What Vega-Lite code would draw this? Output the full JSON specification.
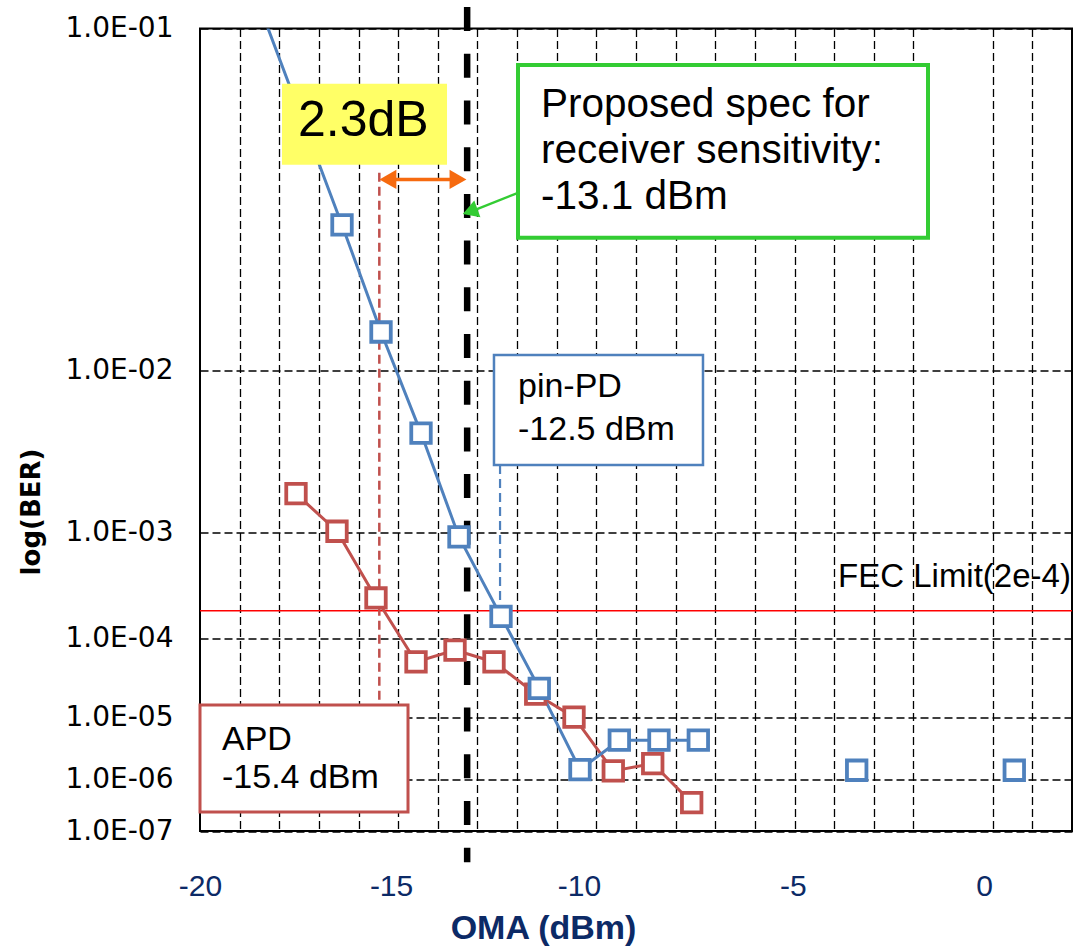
{
  "$schema": "https://vega.github.io/schema/vega-lite/v6.json",
  "width": 872,
  "height": 802.5,
  "autosize": {"type": "none"},
  "padding": {"left": 200, "top": 28.5, "right": 10, "bottom": 116},
  "background": "white",
  "config": {"view": {"stroke": "black", "strokeWidth": 2}},
  "data": {
    "values": [
      {"kind": "fec", "ber": 0.0002},
      {"kind": "pt", "series": "APD", "x": -17.578, "ber": 0.00195, "conn": true},
      {"kind": "pt", "series": "APD", "x": -16.544, "ber": 0.00103, "conn": true},
      {"kind": "pt", "series": "APD", "x": -15.56, "ber": 0.000268, "conn": true},
      {"kind": "pt", "series": "APD", "x": -14.55, "ber": 0.0000542, "conn": true},
      {"kind": "pt", "series": "APD", "x": -13.566, "ber": 0.0000749, "conn": true},
      {"kind": "pt", "series": "APD", "x": -12.583, "ber": 0.0000542, "conn": true},
      {"kind": "pt", "series": "APD", "x": -11.53, "ber": 0.0000212, "conn": true},
      {"kind": "pt", "series": "APD", "x": -10.564, "ber": 0.0000101, "conn": true},
      {"kind": "pt", "series": "APD", "x": -9.573, "ber": 0.00000142, "conn": true},
      {"kind": "pt", "series": "APD", "x": -8.578, "ber": 0.0000019, "conn": true},
      {"kind": "pt", "series": "APD", "x": -7.595, "ber": 0.000000374, "conn": true},
      {"kind": "pt", "series": "pin-PD", "x": -18.41, "ber": 0.1053, "conn": true},
      {"kind": "pt", "series": "pin-PD", "x": -16.417, "ber": 0.0355, "conn": true},
      {"kind": "pt", "series": "pin-PD", "x": -15.433, "ber": 0.01476, "conn": true},
      {"kind": "pt", "series": "pin-PD", "x": -14.424, "ber": 0.00471, "conn": true},
      {"kind": "pt", "series": "pin-PD", "x": -13.466, "ber": 0.000928, "conn": true},
      {"kind": "pt", "series": "pin-PD", "x": -12.406, "ber": 0.000175, "conn": true},
      {"kind": "pt", "series": "pin-PD", "x": -11.44, "ber": 0.0000252, "conn": true},
      {"kind": "pt", "series": "pin-PD", "x": -10.413, "ber": 0.0000015, "conn": true},
      {"kind": "pt", "series": "pin-PD", "x": -9.421, "ber": 0.00000455, "conn": true},
      {"kind": "pt", "series": "pin-PD", "x": -8.42, "ber": 0.00000455, "conn": true},
      {"kind": "pt", "series": "pin-PD", "x": -7.428, "ber": 0.00000455, "conn": true},
      {"kind": "pt", "series": "pin-PD", "x": -3.432, "ber": 0.00000146, "conn": false},
      {"kind": "pt", "series": "pin-PD", "x": 0.544, "ber": 0.00000146, "conn": false},
      {"kind": "vline", "id": "spec", "x": -13.26, "ber": 0.1085, "ber2": 0.00000002},
      {"kind": "vline", "id": "apd", "x": -15.476, "ber": 0.0496, "ber2": 0.000015},
      {"kind": "vline", "id": "pin", "x": -12.43, "ber": 0.00302, "ber2": 0.000229},
      {"kind": "box", "id": "yellow", "x": -17.931, "x2": -13.768, "ber": 0.0791, "ber2": 0.052},
      {"kind": "box", "id": "green", "x": -11.977, "x2": -1.633, "ber": 0.086, "ber2": 0.0324},
      {"kind": "box", "id": "blue", "x": -12.583, "x2": -7.31, "ber": 0.01173, "ber2": 0.00302},
      {"kind": "box", "id": "red", "x": -20, "x2": -14.752, "ber": 0.000015, "ber2": 0.000000246},
      {"kind": "text", "id": "big", "x": -15.88, "ber": 0.0611, "label": "2.3dB"},
      {"kind": "text", "id": "green", "x": -11.397, "ber": 0.0674, "label": "Proposed spec for"},
      {"kind": "text", "id": "green", "x": -11.397, "ber": 0.0526, "label": "receiver sensitivity:"},
      {"kind": "text", "id": "green", "x": -11.397, "ber": 0.0396, "label": "-13.1 dBm"},
      {"kind": "text", "id": "box", "x": -11.977, "ber": 0.00738, "label": "pin-PD"},
      {"kind": "text", "id": "box", "x": -11.977, "ber": 0.00429, "label": "-12.5 dBm"},
      {"kind": "text", "id": "box", "x": -19.445, "ber": 0.00000316, "label": "APD"},
      {"kind": "text", "id": "box", "x": -19.445, "ber": 0.000000697, "label": "-15.4 dBm"},
      {"kind": "text", "id": "fec", "x": -3.903, "ber": 0.000342, "label": "FEC Limit(2e-4)"},
      {"kind": "seg", "id": "orange", "x": -15.259, "x2": -13.491, "ber": 0.0477, "ber2": 0.0477},
      {"kind": "seg", "id": "green", "x": -11.977, "x2": -13.138, "ber": 0.0439, "ber2": 0.039},
      {"kind": "head", "id": "oleft", "x": -15.259, "ber": 0.0477},
      {"kind": "head", "id": "oright", "x": -13.491, "ber": 0.0477},
      {"kind": "head", "id": "green", "x": -13.186, "ber": 0.0389}
    ]
  },
  "transform": [
    {"calculate": "-quantileNormal(datum.ber)", "as": "q"},
    {"calculate": "isValid(datum.ber2) ? -quantileNormal(datum.ber2) : null", "as": "q2"}
  ],
  "resolve": {"axis": {"x": "independent", "y": "independent"}},
  "layer": [
    {
      "transform": [{"filter": "datum.kind === 'fec'"}],
      "mark": {"type": "rule", "color": "#FF0000", "strokeWidth": 1.5},
      "encoding": {"y": {"field": "q", "type": "quantitative", "axis": null}}
    },
    {
      "transform": [{"filter": "datum.kind === 'pt' && datum.conn"}],
      "mark": {"type": "line", "strokeWidth": 3, "clip": true},
      "encoding": {
        "x": {
          "field": "x", "type": "quantitative",
          "scale": {"domain": [-20, 2], "nice": false, "zero": false},
          "axis": {
            "values": [-20, -15.18, -10.44, -5.04, -0.22],
            "labelExpr": "'' + round(datum.value / 5) * 5",
            "labelFlush": false, "labelOverlap": false, "labelBound": false,
            "grid": false, "ticks": false, "tickSize": 0, "domain": false,
            "labelFont": "Liberation Sans", "labelFontSize": 30, "labelColor": "#0C2A66",
            "labelBaseline": "alphabetic", "labelPadding": 64,
            "title": "OMA (dBm)", "titleFont": "Liberation Sans", "titleFontSize": 34,
            "titleFontWeight": "bold", "titleColor": "#0C2A66",
            "titleX": 343, "titleY": 107, "titleBaseline": "alphabetic", "titleAlign": "center"
          }
        },
        "y": {
          "field": "q", "type": "quantitative",
          "scale": {"type": "log", "domain": [1.2815516, 5.1993376], "reverse": true, "nice": false},
          "axis": {
            "values": [1.2815516, 2.3263479, 3.0902323, 3.7190165, 4.2648908, 4.7534243, 5.1993376],
            "labelExpr": "'1.0E-0' + round(-log(cumulativeNormal(-datum.value)) / LN10)",
            "grid": true, "gridColor": "black", "gridDash": [8, 4], "gridWidth": 1.3, "gridOpacity": 1,
            "ticks": false, "tickSize": 0, "domain": false,
            "labelFlush": false, "labelOverlap": false, "labelBound": false,
            "labelFont": "DejaVu Sans", "labelFontSize": 28, "labelColor": "black", "labelPadding": 27,
            "title": "log(BER)", "titleFont": "DejaVu Sans", "titleFontSize": 26, "titleFontWeight": "bold",
            "titleColor": "black", "titleX": -169, "titleY": 483, "titleBaseline": "middle",
            "titleAngle": -90, "titleAlign": "center"
          }
        },
        "color": {
          "field": "series", "type": "nominal",
          "scale": {"domain": ["APD", "pin-PD"], "range": ["#C0504D", "#4F81BD"]},
          "legend": null
        }
      }
    },
    {
      "transform": [{"filter": "datum.kind === 'vline' && datum.id === 'spec'"}],
      "mark": {"type": "rule", "color": "black", "strokeWidth": 6.5, "strokeDash": [24, 22.7], "clip": false},
      "encoding": {
        "x": {"field": "x", "type": "quantitative", "axis": null},
        "y": {"field": "q", "type": "quantitative", "axis": null},
        "y2": {"field": "q2"}
      }
    },
    {
      "transform": [{"filter": "datum.kind === 'vline' && datum.id === 'apd'"}],
      "mark": {"type": "rule", "color": "#C0504D", "strokeWidth": 2.5, "strokeDash": [9, 5]},
      "encoding": {
        "x": {"field": "x", "type": "quantitative", "axis": null},
        "y": {"field": "q", "type": "quantitative", "axis": null},
        "y2": {"field": "q2"}
      }
    },
    {
      "transform": [{"filter": "datum.kind === 'vline' && datum.id === 'pin'"}],
      "mark": {"type": "rule", "color": "#4F81BD", "strokeWidth": 2.2, "strokeDash": [9, 5]},
      "encoding": {
        "x": {"field": "x", "type": "quantitative", "axis": null},
        "y": {"field": "q", "type": "quantitative", "axis": null},
        "y2": {"field": "q2"}
      }
    },
    {
      "transform": [{"filter": "datum.kind === 'box' && datum.id === 'yellow'"}],
      "mark": {"type": "rect", "fill": "#FFFF66", "strokeWidth": 0},
      "encoding": {
        "x": {"field": "x", "type": "quantitative", "axis": null},
        "x2": {"field": "x2"},
        "y": {"field": "q", "type": "quantitative", "axis": null},
        "y2": {"field": "q2"}
      }
    },
    {
      "transform": [{"filter": "datum.kind === 'box' && datum.id === 'green'"}],
      "mark": {"type": "rect", "fill": "white", "stroke": "#33CC33", "strokeWidth": 4},
      "encoding": {
        "x": {"field": "x", "type": "quantitative", "axis": null},
        "x2": {"field": "x2"},
        "y": {"field": "q", "type": "quantitative", "axis": null},
        "y2": {"field": "q2"}
      }
    },
    {
      "transform": [{"filter": "datum.kind === 'box' && datum.id === 'blue'"}],
      "mark": {"type": "rect", "fill": "white", "stroke": "#4F81BD", "strokeWidth": 2.5},
      "encoding": {
        "x": {"field": "x", "type": "quantitative", "axis": null},
        "x2": {"field": "x2"},
        "y": {"field": "q", "type": "quantitative", "axis": null},
        "y2": {"field": "q2"}
      }
    },
    {
      "transform": [{"filter": "datum.kind === 'box' && datum.id === 'red'"}],
      "mark": {"type": "rect", "fill": "white", "stroke": "#C0504D", "strokeWidth": 3},
      "encoding": {
        "x": {"field": "x", "type": "quantitative", "axis": null},
        "x2": {"field": "x2"},
        "y": {"field": "q", "type": "quantitative", "axis": null},
        "y2": {"field": "q2"}
      }
    },
    {
      "transform": [{"filter": "datum.kind === 'pt'"}],
      "mark": {"type": "point", "shape": "square", "size": 380, "strokeWidth": 3.8, "fill": "white", "fillOpacity": 1, "opacity": 1, "clip": true},
      "encoding": {
        "x": {
          "field": "x", "type": "quantitative",
          "axis": {
            "values": [-19, -18, -17, -16, -15, -14, -13, -12, -11, -10, -9, -8, -7, -6, -5, -4, -3, -2, 0, 1],
            "grid": true, "gridColor": "black", "gridDash": [8, 4], "gridWidth": 1.3, "gridOpacity": 1,
            "labels": false, "ticks": false, "domain": false, "title": null
          }
        },
        "y": {"field": "q", "type": "quantitative", "axis": null},
        "stroke": {
          "field": "series", "type": "nominal",
          "scale": {"domain": ["APD", "pin-PD"], "range": ["#C0504D", "#4F81BD"]},
          "legend": null
        }
      }
    },
    {
      "transform": [{"filter": "datum.kind === 'text' && datum.id === 'big'"}],
      "mark": {"type": "text", "font": "Liberation Sans", "fontSize": 50, "color": "black", "align": "center", "baseline": "alphabetic"},
      "encoding": {
        "x": {"field": "x", "type": "quantitative", "axis": null},
        "y": {"field": "q", "type": "quantitative", "axis": null},
        "text": {"field": "label"}
      }
    },
    {
      "transform": [{"filter": "datum.kind === 'text' && datum.id === 'green'"}],
      "mark": {"type": "text", "font": "Liberation Sans", "fontSize": 40.5, "color": "black", "align": "left", "baseline": "alphabetic"},
      "encoding": {
        "x": {"field": "x", "type": "quantitative", "axis": null},
        "y": {"field": "q", "type": "quantitative", "axis": null},
        "text": {"field": "label"}
      }
    },
    {
      "transform": [{"filter": "datum.kind === 'text' && datum.id === 'box'"}],
      "mark": {"type": "text", "font": "Liberation Sans", "fontSize": 34, "color": "black", "align": "left", "baseline": "alphabetic"},
      "encoding": {
        "x": {"field": "x", "type": "quantitative", "axis": null},
        "y": {"field": "q", "type": "quantitative", "axis": null},
        "text": {"field": "label"}
      }
    },
    {
      "transform": [{"filter": "datum.kind === 'text' && datum.id === 'fec'"}],
      "mark": {"type": "text", "font": "Liberation Sans", "fontSize": 33, "color": "black", "align": "left", "baseline": "alphabetic"},
      "encoding": {
        "x": {"field": "x", "type": "quantitative", "axis": null},
        "y": {"field": "q", "type": "quantitative", "axis": null},
        "text": {"field": "label"}
      }
    },
    {
      "transform": [{"filter": "datum.kind === 'seg' && datum.id === 'orange'"}],
      "mark": {"type": "rule", "color": "#F66A0F", "strokeWidth": 3.5},
      "encoding": {
        "x": {"field": "x", "type": "quantitative", "axis": null},
        "x2": {"field": "x2"},
        "y": {"field": "q", "type": "quantitative", "axis": null},
        "y2": {"field": "q2"}
      }
    },
    {
      "transform": [{"filter": "datum.kind === 'seg' && datum.id === 'green'"}],
      "mark": {"type": "rule", "color": "#33CC33", "strokeWidth": 2.5},
      "encoding": {
        "x": {"field": "x", "type": "quantitative", "axis": null},
        "x2": {"field": "x2"},
        "y": {"field": "q", "type": "quantitative", "axis": null},
        "y2": {"field": "q2"}
      }
    },
    {
      "transform": [{"filter": "datum.kind === 'head' && datum.id === 'oleft'"}],
      "mark": {"type": "point", "shape": "triangle-left", "size": 380, "filled": true, "color": "#F66A0F", "opacity": 1},
      "encoding": {
        "x": {"field": "x", "type": "quantitative", "axis": null},
        "y": {"field": "q", "type": "quantitative", "axis": null}
      }
    },
    {
      "transform": [{"filter": "datum.kind === 'head' && datum.id === 'oright'"}],
      "mark": {"type": "point", "shape": "triangle-right", "size": 380, "filled": true, "color": "#F66A0F", "opacity": 1},
      "encoding": {
        "x": {"field": "x", "type": "quantitative", "axis": null},
        "y": {"field": "q", "type": "quantitative", "axis": null}
      }
    },
    {
      "transform": [{"filter": "datum.kind === 'head' && datum.id === 'green'"}],
      "mark": {"type": "point", "shape": "triangle-up", "size": 320, "angle": 250, "filled": true, "color": "#33CC33", "opacity": 1},
      "encoding": {
        "x": {"field": "x", "type": "quantitative", "axis": null},
        "y": {"field": "q", "type": "quantitative", "axis": null}
      }
    }
  ]
}
